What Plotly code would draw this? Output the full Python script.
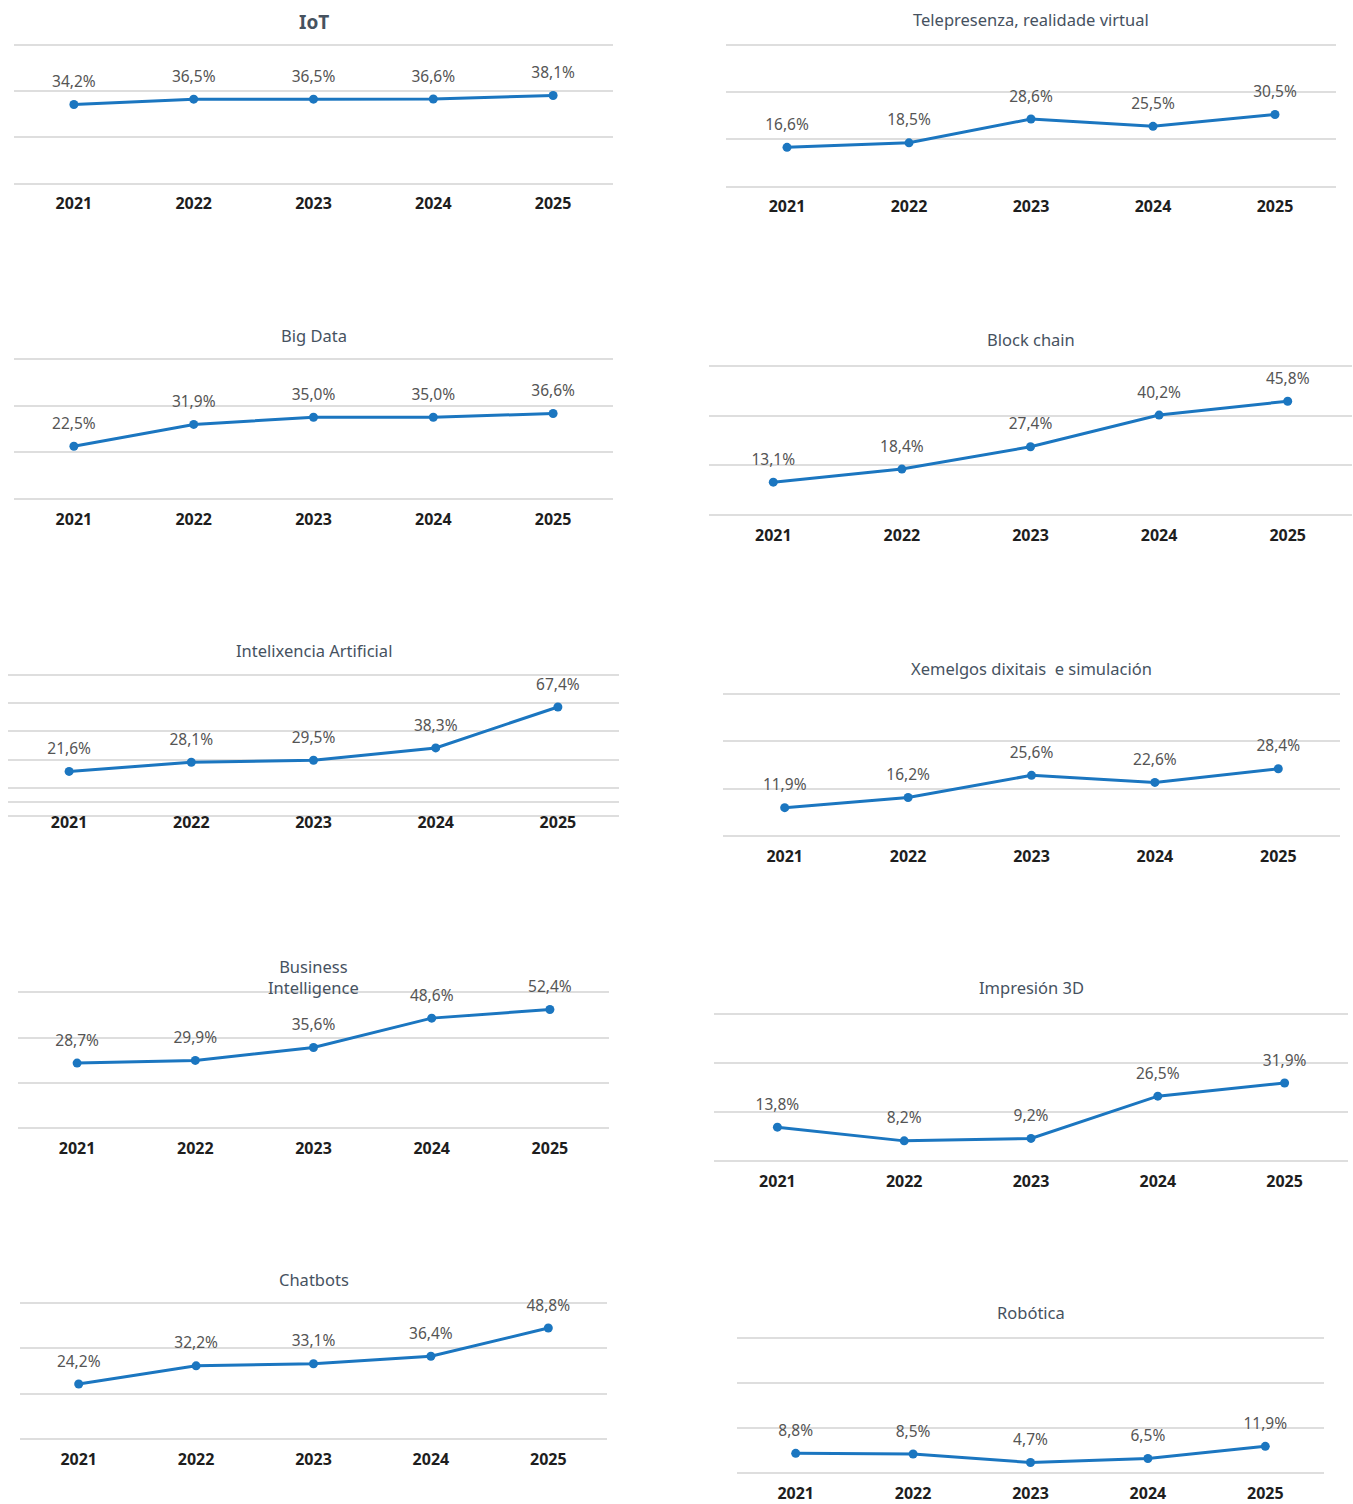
import plotly.graph_objects as go

W, H = 1353, 1504

years = ["2021", "2022", "2023", "2024", "2025"]

iot = [34.2, 36.5, 36.5, 36.6, 38.1]
telepresenza = [16.6, 18.5, 28.6, 25.5, 30.5]
big_data = [22.5, 31.9, 35.0, 35.0, 36.6]
block_chain = [13.1, 18.4, 27.4, 40.2, 45.8]
intelixencia = [21.6, 28.1, 29.5, 38.3, 67.4]
xemelgos = [11.9, 16.2, 25.6, 22.6, 28.4]
business = [28.7, 29.9, 35.6, 48.6, 52.4]
impresion = [13.8, 8.2, 9.2, 26.5, 31.9]
chatbots = [24.2, 32.2, 33.1, 36.4, 48.8]
robotica = [8.8, 8.5, 4.7, 6.5, 11.9]

titles = [
    "IoT",
    "Telepresenza, realidade virtual",
    "Big Data",
    "Block chain",
    "Intelixencia Artificial",
    "Xemelgos dixitais  e simulación",
    "Business<br>Intelligence",
    "Impresión 3D",
    "Chatbots",
    "Robótica",
]
series = [iot, telepresenza, big_data, block_chain, intelixencia,
          xemelgos, business, impresion, chatbots, robotica]

grid_std = [0, 20, 40, 60]
grid_ia = [-10, 0, 10, 30, 50, 70, 90]

# panel boxes in pixels: x0, x1, y of top of range, y of bottom of range, y range, gridlines, title y
panels = [
    (14, 613, 45, 184, [0, 60], grid_std, 22),
    (726, 1336, 45, 187, [0, 60], grid_std, 20),
    (14, 613, 360, 500, [0, 60], grid_std, 336),
    (709, 1352, 367, 516, [0, 60], grid_std, 340),
    (8, 619, 677, 818, [-10, 90], grid_ia, 652),
    (723, 1340, 696, 838, [0, 60], grid_std, 670),
    (18, 609, 995, 1131, [0, 60], grid_std, 980),
    (714, 1348, 1017, 1164, [0, 60], grid_std, 990),
    (20, 607, 1306, 1443, [0, 60], grid_std, 1283),
    (737, 1324, 1342, 1477, [0, 60], grid_std, 1316),
]

line_color = "#1b76c0"
grid_color = "#dedede"
label_color = "#555555"
title_color = "#46525f"
font_family = "Noto Sans, Open Sans, sans-serif"
PAD = 5  # px of extra room so edge gridlines are drawn

fig = go.Figure()
layout = {}
annotations = []

for i, (vals, title, box) in enumerate(zip(series, titles, panels), start=1):
    x0, x1, ytop, ybot, yrange, grid, title_y = box
    sfx = "" if i == 1 else str(i)
    labels = [f"{v:.1f}".replace(".", ",") + "%" for v in vals]
    fig.add_trace(go.Scatter(
        x=years, y=vals,
        mode="lines+markers",
        line=dict(color=line_color, width=3),
        marker=dict(color=line_color, size=9),
        showlegend=False, hoverinfo="skip",
        xaxis="x" + sfx, yaxis="y" + sfx,
    ))
    # labels sit higher above the points than the default offset
    fig.add_trace(go.Scatter(
        x=years, y=vals,
        mode="markers+text",
        marker=dict(color="rgba(0,0,0,0)", size=20),
        text=labels,
        textposition="top center",
        textfont=dict(color=label_color, size=15.5, family=font_family),
        cliponaxis=False,
        showlegend=False, hoverinfo="skip",
        xaxis="x" + sfx, yaxis="y" + sfx,
    ))
    ppu = (ybot - ytop) / (yrange[1] - yrange[0])
    eps = PAD / ppu
    zero_px = ybot - ppu * (0 - yrange[0])
    layout["xaxis" + sfx] = dict(
        domain=[x0 / W, x1 / W],
        anchor="y" + sfx,
        type="category",
        range=[-0.5, 4.5],
        showgrid=False, zeroline=False, showline=False,
        ticks="",
        tickfont=dict(size=16, color="#1e1e1e", family=font_family, weight="bold"),
        ticklabelstandoff=int(round(9 - PAD - (ybot - zero_px))),
    )
    layout["yaxis" + sfx] = dict(
        domain=[1 - (ybot + PAD) / H, 1 - (ytop - PAD) / H],
        anchor="x" + sfx,
        range=[yrange[0] - eps, yrange[1] + eps],
        tickvals=grid,
        showticklabels=False,
        showgrid=True, gridcolor=grid_color, gridwidth=1.5,
        zeroline=False, showline=False,
    )
    annotations.append(dict(
        text=title,
        x=(x0 + x1) / 2 / W, y=1 - title_y / H,
        xref="paper", yref="paper",
        xanchor="center", yanchor="middle",
        showarrow=False,
        font=dict(size=16.5 if i > 1 else 19, color=title_color, family=font_family,
                  weight="bold" if i == 1 else "normal"),
    ))

fig.update_layout(
    width=W, height=H,
    margin=dict(l=0, r=0, t=0, b=0),
    plot_bgcolor="white", paper_bgcolor="white",
    hovermode=False,
    annotations=annotations,
    **layout,
)

fig.write_html("out.html", config={"displayModeBar": False},
               post_script="document.body.style.margin='0';")
